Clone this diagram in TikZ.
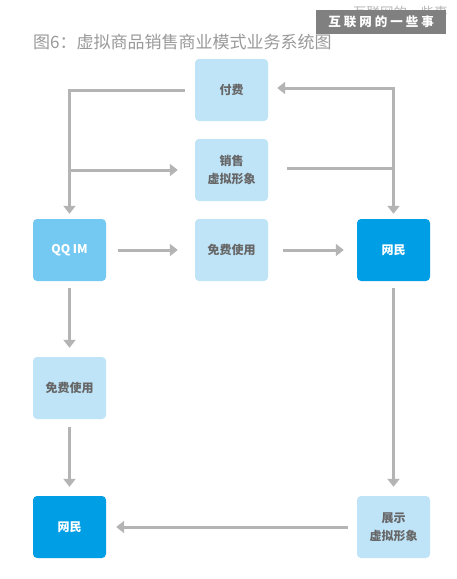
\documentclass[tikz,border=0pt]{standalone}
\usepackage{fontspec}
\setmainfont{Noto Sans CJK SC}
\newfontfamily\cjk{Noto Sans CJK SC}
\usetikzlibrary{arrows.meta,calc}
\definecolor{lightbox}{HTML}{BFE4F8}
\definecolor{midbox}{HTML}{74C9F2}
\definecolor{darkbox}{HTML}{009FE5}
\definecolor{linegray}{HTML}{B4B4B4}
\definecolor{txtgray}{HTML}{666666}
\definecolor{titlegray}{HTML}{9A9A9A}
\tikzset{
  box/.style={rounded corners=4pt, minimum width=73pt, minimum height=62pt, inner sep=0pt, align=center, font=\cjk\bfseries\fontsize{12}{18}\selectfont},
  lbox/.style={box, fill=lightbox, text=txtgray},
  mbox/.style={box, fill=midbox, text=white},
  dbox/.style={box, fill=darkbox, text=white},
  conn/.style={draw=linegray, line width=3pt},
  arr/.style={conn, -{Triangle[width=12pt,length=8pt]}},
}
\begin{document}
\begin{tikzpicture}[x=1pt,y=-1pt]
\useasboundingbox (0,0) rectangle (456,579);
\fill[white] (0,0) rectangle (456,579);
% watermark
\node[anchor=west, inner sep=0pt, text=black!28, font=\cjk\fontsize{13.5}{13.5}\selectfont] (wm2) at (353,12) {互联网的一些事};
\fill[black!50] (316,10) rectangle (446,34);
\node[inner sep=0pt, text=white, font=\cjk\bfseries\fontsize{12.5}{12.5}\selectfont] (wm) at (381,22) {互\kern3pt 联\kern3pt 网\kern3pt 的\kern3pt 一\kern3pt 些\kern3pt 事};
% title
\node[anchor=west, inner sep=0pt, text=titlegray, font=\cjk\fontsize{17}{17}\selectfont] (title) at (33,42) {图6：虚拟商品销售商业模式业务系统图};
% boxes
\node[lbox] (pay) at (231.5,90) {付费};
\node[lbox] (sell) at (231.5,170) {销售\\虚拟形象};
\node[mbox] (qq) at (69.5,250) {QQ IM};
\node[lbox] (free1) at (231.5,250) {免费使用};
\node[dbox] (user1) at (393.5,250) {网民};
\node[lbox] (free2) at (69.5,388) {免费使用};
\node[dbox] (user2) at (69.5,527) {网民};
\node[lbox] (show) at (393.5,527) {展示\\虚拟形象};
% coordinates
\coordinate (lt) at (69.5,90);
\coordinate (lm) at (69.5,170);
\coordinate (rt) at (393.5,88);
\coordinate (rm) at (393.5,168);
% connectors
\draw[arr] ($(pay.west)+(-10,0)$) -- (lt) -- ($(qq.north)+(0,-5)$);
\draw[arr] (lm) -- ($(sell.west)+(-17,0)$);
\draw[arr] ($(sell.east)+(19,-2)$) -- (rm) -- (rt) -- ($(pay.east)+(9,-2)$);
\draw[arr] (rt) -- ($(user1.north)+(0,-5)$);
\draw[arr] ($(qq.east)+(12,0)$) -- ($(free1.west)+(-17,0)$);
\draw[arr] ($(free1.east)+(15,0)$) -- ($(user1.west)+(-13,0)$);
\draw[arr] ($(qq.south)+(0,7)$) -- ($(free2.north)+(0,-9)$);
\draw[arr] ($(free2.south)+(0,8)$) -- ($(user2.north)+(0,-9)$);
\draw[arr] ($(user1.south)+(0,7)$) -- ($(show.north)+(0,-9)$);
\draw[arr] ($(show.west)+(-9,0)$) -- ($(user2.east)+(10,0)$);
\end{tikzpicture}
\end{document}
